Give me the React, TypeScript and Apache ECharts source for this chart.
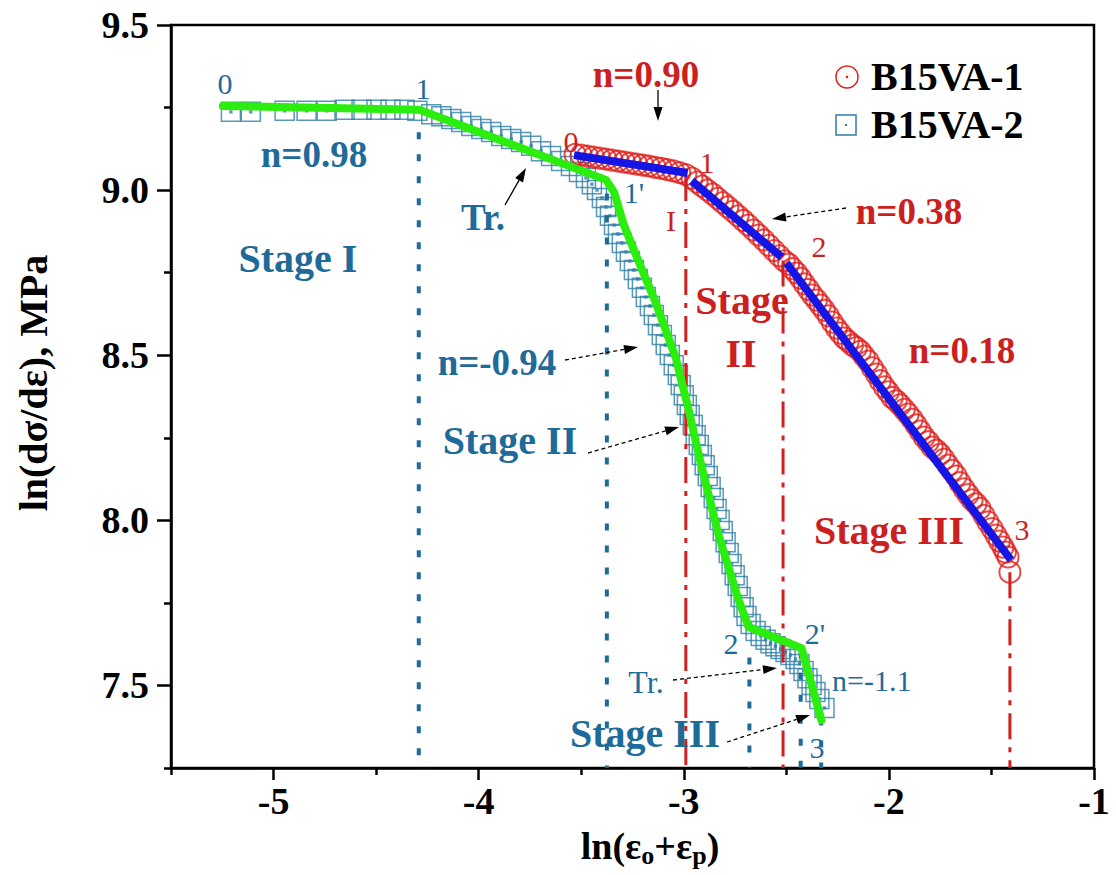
import React, { useEffect, useRef } from "react";
import * as echarts from "echarts";

// ---------- axis ticks ----------
const xMajor = [-5, -4, -3, -2, -1];
const xMinor = [-5.5, -4.5, -3.5, -2.5, -1.5];
const yMajor = [7.5, 8.0, 8.5, 9.0, 9.5];
const yMinor = [7.25, 7.75, 8.25, 8.75, 9.25];

// ---------- B15VA-1 (red circles) ----------
const b15va1X = [
  -3.53, -3.5, -3.47, -3.44, -3.41, -3.38, -3.35, -3.32, -3.29, -3.26, -3.23, -3.2, -3.17, -3.14, -3.11, -3.08, -3.05, -3.02, -2.99,
  -2.96, -2.935, -2.91, -2.885, -2.86, -2.835, -2.81, -2.785, -2.76, -2.735, -2.71, -2.685, -2.66, -2.635, -2.61, -2.585, -2.56, -2.535, -2.51,
  -2.489, -2.47, -2.45, -2.431, -2.412, -2.392, -2.373, -2.353, -2.334, -2.315, -2.295, -2.276, -2.256, -2.237, -2.217, -2.198, -2.178, -2.159,
  -2.139, -2.12, -2.1, -2.081, -2.061, -2.042, -2.022, -2.003, -1.984, -1.964, -1.945, -1.925, -1.906, -1.886, -1.867, -1.847, -1.828, -1.808,
  -1.789, -1.769, -1.75, -1.731, -1.711, -1.692, -1.672, -1.653, -1.633, -1.614, -1.594, -1.575, -1.556, -1.536, -1.517, -1.497, -1.478, -1.461,
  -1.444, -1.432, -1.419, -1.41,
];
const b15va1Y = [
  9.108, 9.106, 9.103, 9.1, 9.097, 9.094, 9.091, 9.088, 9.085, 9.082, 9.079, 9.076, 9.073, 9.069, 9.066, 9.062, 9.058, 9.053, 9.047,
  9.036, 9.024, 9.012, 9.0, 8.988, 8.975, 8.962, 8.949, 8.936, 8.922, 8.908, 8.894, 8.879, 8.864, 8.849, 8.833, 8.817, 8.801, 8.786,
  8.776, 8.762, 8.749, 8.733, 8.716, 8.699, 8.682, 8.667, 8.652, 8.636, 8.619, 8.6, 8.582, 8.567, 8.552, 8.542, 8.531, 8.523,
  8.512, 8.497, 8.482, 8.462, 8.443, 8.423, 8.404, 8.389, 8.372, 8.362, 8.35, 8.336, 8.322, 8.306, 8.289, 8.27, 8.252, 8.238,
  8.222, 8.212, 8.2, 8.185, 8.167, 8.151, 8.134, 8.114, 8.095, 8.078, 8.062, 8.05, 8.036, 8.015, 7.995, 7.975, 7.955, 7.937,
  7.919, 7.904, 7.889, 7.843,
];

// ---------- B15VA-2 (blue squares) ----------
const b15va2X = [
  -5.208, -5.111, -4.946, -4.839, -4.741, -4.654, -4.571, -4.498, -4.43, -4.362, -4.299,
  -4.231, -4.182, -4.133, -4.085, -4.036, -3.987, -3.939, -3.89, -3.841, -3.793, -3.744, -3.696, -3.647, -3.598, -3.55, -3.511, -3.477, -3.448, -3.423,
  -3.399, -3.379, -3.36, -3.34, -3.321, -3.302, -3.282, -3.263, -3.243, -3.224, -3.204, -3.185, -3.165, -3.146, -3.126, -3.107, -3.088, -3.068,
  -3.049, -3.029, -3.015, -3.0, -2.985, -2.971, -2.956, -2.942, -2.927, -2.912, -2.898, -2.883, -2.869, -2.854, -2.84, -2.825, -2.81, -2.796,
  -2.781, -2.767, -2.752, -2.737, -2.723, -2.708, -2.694, -2.674, -2.65,
  -2.625, -2.601, -2.577, -2.553, -2.528, -2.504, -2.48, -2.455,
  -2.436, -2.416, -2.397, -2.377, -2.358, -2.339, -2.314,
];
const b15va2Y = [
  9.237, 9.237, 9.24, 9.24, 9.24, 9.243, 9.243, 9.243, 9.243, 9.243, 9.24,
  9.23, 9.224, 9.215, 9.206, 9.194, 9.185, 9.176, 9.164, 9.155, 9.146, 9.134, 9.118, 9.103, 9.088, 9.073, 9.055, 9.037, 9.018, 9.0,
  8.976, 8.949, 8.922, 8.894, 8.867, 8.84, 8.813, 8.785, 8.758, 8.731, 8.704, 8.676, 8.649, 8.622, 8.591, 8.561, 8.531, 8.501,
  8.47, 8.44, 8.41, 8.379, 8.349, 8.319, 8.289, 8.258, 8.228, 8.198, 8.167, 8.134, 8.101, 8.068, 8.034, 8.001, 7.968, 7.934,
  7.901, 7.868, 7.834, 7.801, 7.768, 7.737, 7.71, 7.686, 7.665,
  7.65, 7.638, 7.628, 7.619, 7.61, 7.601, 7.592, 7.58,
  7.565, 7.544, 7.522, 7.501, 7.48, 7.459, 7.432,
];

// ---------- fitted lines ----------
const fit2X = [-5.247, -4.289, -3.379, -3.34, -3.292, -3.219, -3.136, -3.039, -2.976, -2.927, -2.83, -2.733, -2.684, -2.426, -2.329];
const fit2Y = [9.255, 9.243, 9.031, 8.994, 8.894, 8.782, 8.658, 8.492, 8.334, 8.198, 7.955, 7.759, 7.677, 7.613, 7.395];
const fit1SegX = [[-3.535, -2.981], [-2.961, -2.523], [-2.499, -1.405]];
const fit1SegY = [[9.106, 9.052], [9.028, 8.797], [8.779, 7.88]];

// ---------- stage boundaries ----------
const redStageX = [-2.99, -2.516, -1.41];
const redStageTop = [9.046, 8.787, 7.843];
const blueStageX = [-4.292, -3.375, -2.68, -2.43, -2.33];
const blueStageTop = [9.175, 8.99, 7.585, 7.605, 7.4];
const yBottom = 7.25;

const FONT = '"Liberation Serif", "Times New Roman", serif';
const BLUE_T = "#1e6b9a";
const BLUE_S = "#2f7fa6";
const RED_T = "#cc1f1f";
const RED_S = "#e01f1c";
const SQ = "path://M0,0L20,0L20,20L0,20Z M9,9L11,9L11,11L9,11Z";

function txt(text: string, x: number, y: number, color: string, size: number, bold: boolean, align = "center") {
  return {
    type: "text",
    z: 50,
    style: {
      text,
      x,
      y,
      fill: color,
      fontSize: size,
      fontWeight: bold ? "bold" : "normal",
      fontFamily: FONT,
      align,
      textAlign: align,
      verticalAlign: "middle",
      textVerticalAlign: "middle",
    },
  };
}

function arrow(x1: number, y1: number, x2: number, y2: number, dashed: boolean) {
  const a = Math.atan2(y2 - y1, x2 - x1);
  const L = 14;
  const W = 4.5;
  const bx = x2 - L * Math.cos(a);
  const by = y2 - L * Math.sin(a);
  const px = -Math.sin(a) * W;
  const py = Math.cos(a) * W;
  return [
    {
      type: "line",
      z: 50,
      shape: { x1, y1, x2: bx, y2: by },
      style: { stroke: "#000", lineWidth: 1.3, lineDash: dashed ? [4, 3] : null },
    },
    {
      type: "polygon",
      z: 50,
      shape: { points: [[x2, y2], [bx + px, by + py], [bx - px, by - py]] },
      style: { fill: "#000" },
    },
  ];
}

export default function App() {
  const ref = useRef<HTMLDivElement>(null);
  useEffect(() => {
    if (!ref.current) return;
    const chart = echarts.init(ref.current, undefined, { renderer: "svg" });

    const zip = (xs: number[], ys: number[]) => xs.map((x, i) => [x, ys[i]]);

    const series: any[] = [
      {
        name: "B15VA-2",
        type: "scatter",
        data: zip(b15va2X, b15va2Y),
        symbol: SQ,
        symbolSize: 19,
        itemStyle: { color: "rgba(0,0,0,0)", borderColor: BLUE_S, borderWidth: 1.5 },
        z: 2,
      },
      {
        name: "B15VA-1",
        type: "scatter",
        data: zip(b15va1X, b15va1Y),
        symbol: "circle",
        symbolSize: 21,
        itemStyle: { color: "rgba(0,0,0,0)", borderColor: RED_S, borderWidth: 2 },
        z: 2,
      },
    ];
    redStageX.forEach((x, i) => {
      series.push({
        type: "line",
        data: [[x, redStageTop[i]], [x, yBottom]],
        showSymbol: false,
        lineStyle: { color: "#d02020", width: 3, type: [26, 8, 5, 8] },
        z: 3,
      });
    });
    blueStageX.forEach((x, i) => {
      series.push({
        type: "line",
        data: [[x, blueStageTop[i]], [x, yBottom]],
        showSymbol: false,
        lineStyle: { color: BLUE_T, width: 4, type: [7, 15] },
        z: 3,
      });
    });
    series.push({
      type: "line",
      data: zip(fit2X, fit2Y),
      showSymbol: false,
      lineStyle: { color: "#2bee0e", width: 8, join: "round", cap: "round" },
      z: 4,
    });
    fit1SegX.forEach((xs, i) => {
      series.push({
        type: "line",
        data: zip(xs, fit1SegY[i]),
        showSymbol: false,
        lineStyle: { color: "#1515e6", width: 8 },
        z: 4,
      });
    });

    const axisFont = { fontFamily: FONT, fontWeight: "bold", fontSize: 38, color: "#000" };

    const graphic: any[] = [
      // blue annotations
      txt("0", 225, 83, BLUE_T, 30, false),
      txt("1", 423, 88, BLUE_T, 30, false),
      txt("n=0.98", 314, 154, BLUE_T, 37, true),
      txt("Tr.", 483, 217, BLUE_T, 37, true),
      txt("Stage I", 298, 258, BLUE_T, 40, true),
      txt("1'", 634, 192, BLUE_T, 30, false),
      txt("n=-0.94", 497, 362, BLUE_T, 37, true),
      txt("Stage II", 510, 440, BLUE_T, 40, true),
      txt("2", 731, 643, BLUE_T, 30, false),
      txt("2'", 815, 633, BLUE_T, 30, false),
      txt("n=-1.1", 832, 680, BLUE_T, 30, false, "left"),
      txt("Tr.", 646, 682, BLUE_T, 32, false),
      txt("Stage III", 645, 733, BLUE_T, 40, true),
      txt("3", 817, 747, BLUE_T, 30, false),
      // red annotations
      txt("n=0.90", 646, 74, RED_T, 37, true),
      txt("0", 571, 141, RED_T, 30, false),
      txt("1", 707, 162, RED_T, 30, false),
      txt("I", 671, 220, RED_T, 30, false),
      txt("n=0.38", 909, 211, RED_T, 37, true),
      txt("2", 819, 246, RED_T, 30, false),
      txt("Stage", 742, 300, RED_T, 40, true),
      txt("II", 741, 353, RED_T, 40, true),
      txt("n=0.18", 962, 350, RED_T, 37, true),
      txt("Stage III", 889, 530, RED_T, 40, true),
      txt("3", 1022, 529, RED_T, 30, false),
      // arrows
      ...arrow(505, 205, 526, 168, false),
      ...arrow(658, 90, 658, 121, false),
      ...arrow(846, 208, 772, 219, true),
      ...arrow(565, 360, 638, 347, true),
      ...arrow(588, 453, 679, 427, true),
      ...arrow(673, 680, 777, 668, true),
      ...arrow(727, 742, 810, 715, true),
      // legend
      { type: "circle", z: 50, shape: { cx: 847, cy: 77, r: 11 }, style: { fill: "none", stroke: RED_S, lineWidth: 1.5 } },
      { type: "circle", z: 50, shape: { cx: 847, cy: 77, r: 1.3 }, style: { fill: RED_S } },
      txt("B15VA-1", 871, 76, "#000", 40, true, "left"),
      { type: "rect", z: 50, shape: { x: 836, y: 115, width: 20, height: 20 }, style: { fill: "none", stroke: BLUE_S, lineWidth: 1.5 } },
      { type: "rect", z: 50, shape: { x: 845, y: 124, width: 2, height: 2 }, style: { fill: BLUE_S } },
      txt("B15VA-2", 871, 124, "#000", 40, true, "left"),
      // axis titles
      {
        type: "text",
        z: 50,
        style: {
          text: "{a|ln(ε}{s|o}{a|+ε}{s|p}{a|)}",
          x: 650,
          y: 846,
          align: "center",
          textAlign: "center",
          verticalAlign: "middle",
          textVerticalAlign: "middle",
          fill: "#000",
          rich: {
            a: { fontFamily: FONT, fontWeight: "bold", fontSize: 38, lineHeight: 44, fill: "#000", color: "#000" },
            s: { fontFamily: FONT, fontWeight: "bold", fontSize: 26, lineHeight: 14, verticalAlign: "bottom", fill: "#000", color: "#000" },
          },
        },
      },
      {
        type: "text",
        z: 50,
        x: 33,
        y: 383,
        rotation: Math.PI / 2,
        style: {
          text: "ln(dσ/dε), MPa",
          x: 0,
          y: 0,
          align: "center",
          textAlign: "center",
          verticalAlign: "middle",
          textVerticalAlign: "middle",
          fill: "#000",
          fontFamily: FONT,
          fontWeight: "bold",
          fontSize: 40,
        },
      },
    ];

    chart.setOption({
      animation: false,
      backgroundColor: "#fff",
      grid: { left: 171, top: 25, right: 22, bottom: 107, show: true, borderColor: "#000", borderWidth: 2.5, containLabel: false },
      xAxis: [
        {
          type: "value",
          min: -5.5,
          max: -1,
          interval: 0.5,
          axisLine: { show: true, lineStyle: { color: "#000", width: 2.5 } },
          axisTick: { show: true, customValues: xMajor, length: 12, inside: false, lineStyle: { color: "#000", width: 2.5 } },
          axisLabel: { show: true, customValues: xMajor, margin: 14, formatter: (v: number) => String(v), ...axisFont },
          splitLine: { show: false },
        },
        {
          type: "value",
          min: -5.5,
          max: -1,
          interval: 0.5,
          position: "bottom",
          axisLine: { show: false },
          axisTick: { show: true, customValues: xMinor, length: 7, inside: false, lineStyle: { color: "#000", width: 2.5 } },
          axisLabel: { show: false },
          splitLine: { show: false },
        },
      ],
      yAxis: [
        {
          type: "value",
          min: 7.25,
          max: 9.5,
          interval: 0.25,
          axisLine: { show: true, lineStyle: { color: "#000", width: 2.5 } },
          axisTick: { show: true, customValues: yMajor, length: 14, inside: false, lineStyle: { color: "#000", width: 2.5 } },
          axisLabel: { show: true, customValues: yMajor, margin: 22, formatter: (v: number) => v.toFixed(1), ...axisFont },
          splitLine: { show: false },
        },
        {
          type: "value",
          min: 7.25,
          max: 9.5,
          interval: 0.25,
          position: "left",
          axisLine: { show: false },
          axisTick: { show: true, customValues: yMinor, length: 7, inside: false, lineStyle: { color: "#000", width: 2.5 } },
          axisLabel: { show: false },
          splitLine: { show: false },
        },
      ],
      series,
      graphic,
    });

    return () => chart.dispose();
  }, []);

  return (
    <div
      ref={ref}
      style={{ position: "fixed", left: 0, top: 0, width: 1116, height: 875, background: "#fff" }}
    />
  );
}
